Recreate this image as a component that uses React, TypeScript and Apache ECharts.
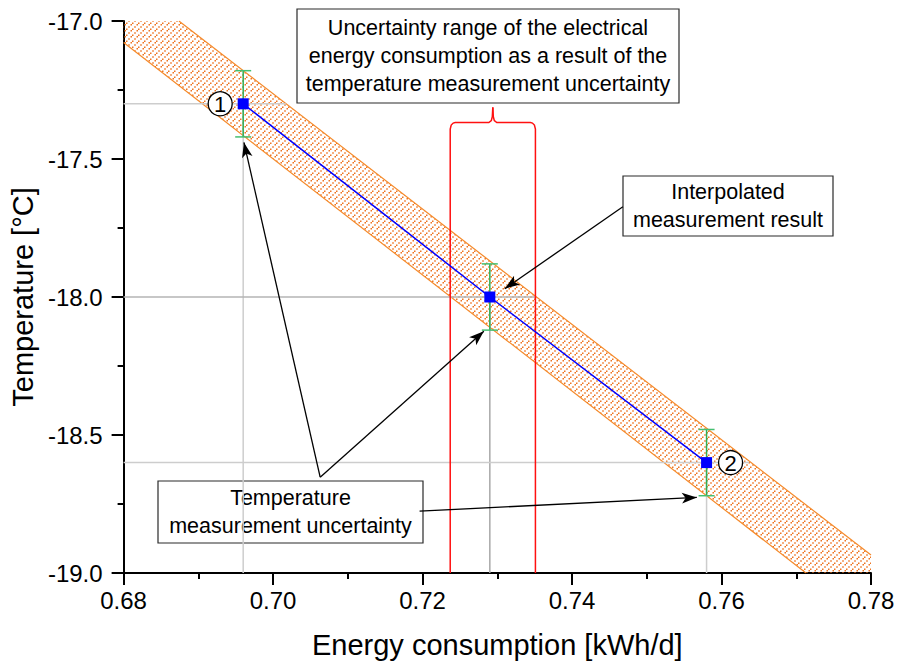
import React, { useEffect, useRef } from "react";
import * as echarts from "echarts";

const FONT = "'Liberation Sans', Arial, sans-serif";

// Measured points
const energy = [0.696, 0.729, 0.758];
const temperature = [-17.3, -18.0, -18.6];
const tempError = [0.12, 0.12, 0.12];
const pointTags = ["1", "", "2"];
const tagOffset = [-23, 0, 24];

// Hatched uncertainty band, outline clipped to the plot area
const bandX = [0.68, 0.6874, 0.78, 0.78, 0.7713, 0.68];
const bandY = [-17.0, -17.0, -18.935, -19.0, -19.0, -17.078];
const bandUpperX = [0.6874, 0.78];
const bandUpperY = [-17.0, -18.935];
const bandLowerX = [0.68, 0.7713];
const bandLowerY = [-17.078, -19.0];

// Horizontal guides run from the axis to the band's upper edge
const guideEndX = [0.7017, 0.7351, 0.7637];

// Energy uncertainty bracket
const rangeX = [0.7237, 0.7351];
const rangeTop = -17.392;
const braceY = -17.368;
const braceTip = -17.313;

// Callout arrows (start -> tip)
const arrowFromX = [0.7063, 0.7063, 0.7196, 0.7468];
const arrowFromY = [-18.653, -18.653, -18.776, -17.673];
const arrowToX = [0.6961, 0.7282, 0.7567, 0.731];
const arrowToY = [-17.44, -18.124, -18.726, -17.97];

// Callout boxes
const boxText = [
  "Uncertainty range of the electrical\nenergy consumption as a result of the\ntemperature measurement uncertainty",
  "Interpolated\nmeasurement result",
  "Temperature\nmeasurement uncertainty",
];
const boxRect = [
  [297, 9, 382, 94],
  [623, 176, 210, 60],
  [158, 481, 265, 62],
];

// Dotted "/" hatch tile
function makeHatch(): HTMLCanvasElement {
  const c = document.createElement("canvas");
  c.width = 6;
  c.height = 6;
  const ctx = c.getContext("2d")!;
  ctx.fillStyle = "#EE7420";
  ctx.fillRect(0, 4.5, 1.5, 1.5);
  ctx.fillRect(2.25, 2.25, 1.5, 1.5);
  ctx.fillRect(4.5, 0, 1.5, 1.5);
  return c;
}

export default function App() {
  const ref = useRef<HTMLDivElement>(null);

  useEffect(() => {
    if (!ref.current) return;
    const chart = echarts.init(ref.current, null, { renderer: "svg" });
    const hatch = makeHatch();

    const points = energy.map((x, i) => [x, temperature[i]]);

    const option: any = {
      animation: false,
      grid: { left: 121, top: 21, right: 27, bottom: 90 },
      xAxis: {
        type: "value",
        min: 0.68,
        max: 0.78,
        interval: 0.02,
        axisLine: { lineStyle: { color: "#000", width: 2 } },
        axisTick: { length: 12, lineStyle: { color: "#000", width: 2 } },
        minorTick: { show: true, splitNumber: 2, length: 6, lineStyle: { color: "#000", width: 2 } },
        splitLine: { show: false },
        axisLabel: {
          fontSize: 24,
          color: "#000",
          fontFamily: FONT,
          margin: 15,
          formatter: (v: number) => v.toFixed(2),
        },
        name: "Energy consumption [kWh/d]",
        nameLocation: "middle",
        nameGap: 57,
        nameTextStyle: { fontSize: 29, color: "#000", fontFamily: FONT },
      },
      yAxis: {
        type: "value",
        min: -19,
        max: -17,
        interval: 0.5,
        axisLine: { show: true, lineStyle: { color: "#000", width: 2 } },
        axisTick: { show: true, length: 12, lineStyle: { color: "#000", width: 2 } },
        minorTick: { show: true, splitNumber: 2, length: 6, lineStyle: { color: "#000", width: 2 } },
        splitLine: { show: false },
        axisLabel: {
          fontSize: 24,
          color: "#000",
          fontFamily: FONT,
          margin: 21,
          formatter: (v: number) => v.toFixed(1),
        },
        name: "Temperature [°C]",
        nameLocation: "middle",
        nameGap: 82,
        nameTextStyle: { fontSize: 29, color: "#000", fontFamily: FONT },
      },
      series: [
        {
          // hatched band
          type: "custom",
          clip: true,
          silent: true,
          z: 1,
          data: [[0.73, -18]],
          renderItem: (_p: any, api: any) => ({
            type: "polygon",
            shape: { points: bandX.map((x, i) => api.coord([x, bandY[i]])) },
            style: {
              fill: { image: hatch, repeat: "repeat", imageWidth: 6, imageHeight: 6 },
              stroke: "none",
            },
          }),
        },
        {
          type: "line",
          data: bandUpperX.map((x, i) => [x, bandUpperY[i]]),
          symbol: "none",
          silent: true,
          z: 2,
          lineStyle: { color: "#F58A2A", width: 1.2 },
        },
        {
          type: "line",
          data: bandLowerX.map((x, i) => [x, bandLowerY[i]]),
          symbol: "none",
          silent: true,
          z: 2,
          lineStyle: { color: "#F58A2A", width: 1.2 },
        },
        {
          // guides, bracket, error bars, tags
          type: "custom",
          silent: true,
          clip: false,
          z: 3,
          data: [[0.73, -18]],
          renderItem: (_p: any, api: any) => {
            const children: any[] = [];
            const bottom = -19;
            energy.forEach((x, i) => {
              const y = temperature[i];
              const a = api.coord([0.68, y]);
              const b = api.coord([guideEndX[i], y]);
              children.push({
                type: "line",
                shape: { x1: a[0], y1: a[1], x2: b[0], y2: b[1] },
                style: { stroke: i === 1 ? "#B4B4B4" : "#CDCDCD", lineWidth: 1.5 },
              });
              const c = api.coord([x, y]);
              const d = api.coord([x, bottom]);
              children.push({
                type: "line",
                shape: { x1: c[0], y1: c[1], x2: d[0], y2: d[1] },
                style: { stroke: i === 1 ? "#A8A8A8" : "#CDCDCD", lineWidth: 1.5 },
              });
            });
            // red bracket
            const l0 = api.coord([rangeX[0], bottom]);
            const l1 = api.coord([rangeX[0], rangeTop]);
            const r0 = api.coord([rangeX[1], bottom]);
            const r1 = api.coord([rangeX[1], rangeTop]);
            const by = api.coord([rangeX[0], braceY])[1];
            const tip = api.coord([(rangeX[0] + rangeX[1]) / 2, braceTip]);
            const red = { stroke: "#FF1010", lineWidth: 1.5, fill: "none" };
            children.push({
              type: "polyline",
              shape: {
                points: [
                  [l0[0], l0[1]],
                  [l1[0], l1[1]],
                  [l1[0] + 1, by + 2.5],
                  [l1[0] + 3, by + 0.5],
                  [l1[0] + 5, by],
                  [tip[0] - 4, by],
                  [tip[0] - 1.5, by - 2],
                  [tip[0] - 0.5, by - 6],
                  [tip[0], tip[1]],
                ],
              },
              style: red,
            });
            children.push({
              type: "polyline",
              shape: {
                points: [
                  [r0[0], r0[1]],
                  [r1[0], r1[1]],
                  [r1[0] - 1, by + 2.5],
                  [r1[0] - 3, by + 0.5],
                  [r1[0] - 5, by],
                  [tip[0] + 4, by],
                  [tip[0] + 1.5, by - 2],
                  [tip[0] + 0.5, by - 6],
                  [tip[0], tip[1]],
                ],
              },
              style: red,
            });
            // error bars
            energy.forEach((x, i) => {
              const t = api.coord([x, temperature[i] + tempError[i]]);
              const b = api.coord([x, temperature[i] - tempError[i]]);
              children.push({
                type: "line",
                shape: { x1: t[0], y1: t[1], x2: b[0], y2: b[1] },
                style: { stroke: "#2FAE55", lineWidth: 1.5 },
              });
              [t, b].forEach((p) =>
                children.push({
                  type: "line",
                  shape: { x1: p[0] - 8, y1: p[1], x2: p[0] + 8, y2: p[1] },
                  style: { stroke: "#45BF70", lineWidth: 1.5 },
                })
              );
            });
            // circled point tags
            energy.forEach((x, i) => {
              if (!pointTags[i]) return;
              const c = api.coord([x, temperature[i]]);
              children.push({
                type: "circle",
                shape: { cx: c[0] + tagOffset[i], cy: c[1], r: 12 },
                style: { fill: "#fff", stroke: "#000", lineWidth: 1.3 },
                z2: 10,
              });
              children.push({
                type: "text",
                x: c[0] + tagOffset[i],
                y: c[1] + 1,
                style: {
                  text: pointTags[i],
                  fontSize: 22,
                  fontFamily: FONT,
                  fill: "#000",
                  align: "center",
                  verticalAlign: "middle",
                },
                z2: 11,
              });
            });
            return { type: "group", children };
          },
        },
        {
          type: "line",
          data: points,
          symbol: "rect",
          symbolSize: 11,
          z: 5,
          itemStyle: { color: "#0000FF" },
          lineStyle: { color: "#0000FF", width: 1.5 },
          markLine: {
            silent: true,
            symbol: ["none", "arrow"],
            symbolSize: [8, 15],
            label: { show: false },
            lineStyle: { color: "#000", width: 1.3, type: "solid" },
            data: arrowFromX.map((x, i) => [
              { coord: [x, arrowFromY[i]] },
              { coord: [arrowToX[i], arrowToY[i]] },
            ]),
          },
        },
      ],
      graphic: boxRect.map((r, i) => ({
        type: "group",
        z: 100,
        children: [
          {
            type: "rect",
            shape: { x: r[0], y: r[1], width: r[2], height: r[3] },
            style: { fill: "#fff", stroke: "#2A2A2A", lineWidth: 1.2 },
          },
          {
            type: "text",
            x: r[0] + r[2] / 2,
            y: r[1] + r[3] / 2,
            style: {
              text: boxText[i],
              fontSize: 21.5,
              lineHeight: 28,
              fontFamily: FONT,
              fill: "#000",
              align: "center",
              verticalAlign: "middle",
            },
          },
        ],
      })),
    };

    chart.setOption(option);
    return () => chart.dispose();
  }, []);

  return (
    <div
      ref={ref}
      style={{ position: "absolute", left: 0, top: 0, width: 898, height: 664 }}
    />
  );
}
